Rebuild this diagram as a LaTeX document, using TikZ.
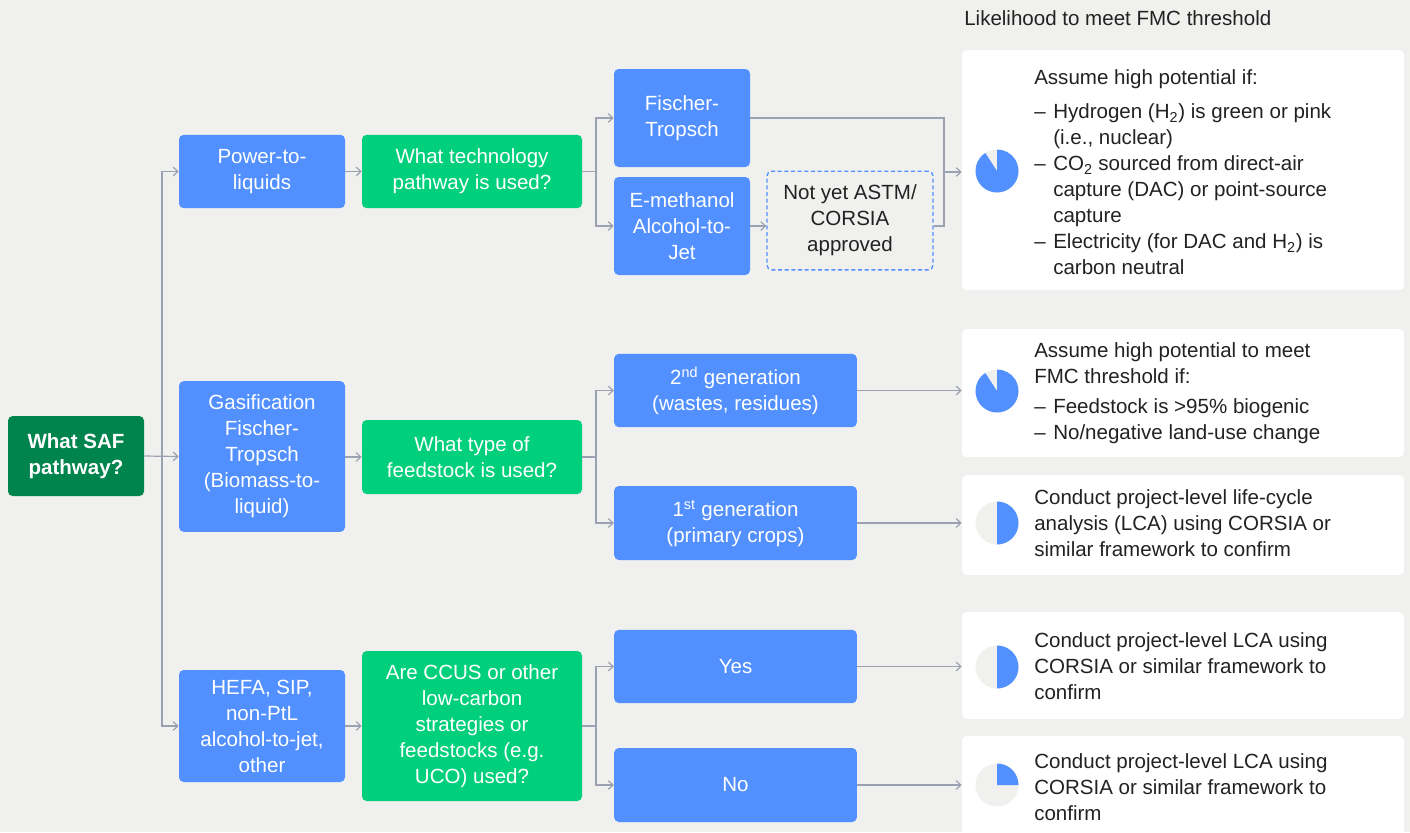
\documentclass[tikz,border=0pt]{standalone}
\usepackage{fontspec}
\setmainfont{Liberation Sans}
\usetikzlibrary{positioning}
\usetikzlibrary{arrows.meta}
\definecolor{bgcol}{RGB}{240,240,238}
\definecolor{ptlblue}{RGB}{82,144,255}
\definecolor{qgreen}{RGB}{0,208,124}
\definecolor{rootgreen}{RGB}{0,132,78}
\definecolor{linecol}{RGB}{155,161,176}
\definecolor{txtcol}{RGB}{34,34,34}
\newcommand\itm{\makebox[14.25pt][l]{–}}
\newcommand\cont{\hspace*{14.25pt}}
\newcommand\fmcpie[4]{%
  \fill[bgcol] (#1,#2) circle (21.5);
  \fill[ptlblue] (#1,#2) -- ++(#3:21.5) arc[start angle=#3, end angle=#4, radius=21.5] -- cycle;}

\begin{document}
\begin{tikzpicture}[x=0.75pt,y=-0.75pt,
  every node/.style={font=\fontsize{15.4}{19.5}\selectfont, align=center},
  bluebox/.style={fill=ptlblue, text=white, rounded corners=3.5pt, inner sep=2pt},
  greenbox/.style={fill=qgreen, text=white, rounded corners=3.5pt, inner sep=2pt, minimum width=165pt},
  rootbox/.style={fill=rootgreen, text=white, rounded corners=3.5pt, inner sep=2pt, font=\fontsize{15.4}{19.5}\selectfont\bfseries},
  pendbox/.style={draw=ptlblue, fill=bgcol, text=txtcol, line width=1pt, dash pattern=on 3pt off 2pt, rounded corners=3.5pt, inner sep=2pt},
  resbox/.style={fill=white, rounded corners=3.5pt, minimum width=331.5pt},
  restext/.style={text=txtcol, align=left, anchor=west, inner sep=0pt},
  conn/.style={draw=linecol, line width=0.9pt},
  arr/.style={conn, -{Straight Barb[length=3.5pt,width=6.5pt]}}]
  \useasboundingbox (0,0) rectangle (1410,832);
  \clip (0,0) rectangle (1410,832);
  \fill[bgcol] (0,0) rectangle (1410,832);

  \node[text=txtcol, anchor=west, inner sep=0pt] (title) at (964,18) {Likelihood to meet FMC threshold};

  \node[rootbox, minimum width=102pt, minimum height=60pt] (root) at (76,456) {What SAF\\pathway?};

  \node[bluebox, minimum width=124.5pt, minimum height=55pt] (ptl) at (262,171.5) {Power-to-\\liquids};
  \node[bluebox, minimum width=124.5pt, minimum height=113pt] (gft) at (262,456.5) {Gasification\\Fischer-\\Tropsch\\(Biomass-to-\\liquid)};
  \node[bluebox, minimum width=124.5pt, minimum height=84pt] (hefa) at (262,726) {HEFA, SIP,\\non-PtL\\alcohol-to-jet,\\other};

  \node[greenbox, minimum height=55pt] (qtech) at (472,171.5) {What technology\\pathway is used?};
  \node[greenbox, minimum height=55.5pt] (qfeed) at (472,457) {What type of\\feedstock is used?};
  \node[greenbox, minimum height=112.5pt] (qccus) at (472,726) {Are CCUS or other\\low-carbon\\strategies or\\feedstocks (e.g.\\UCO) used?};

  \node[bluebox, minimum width=102pt, minimum height=73.5pt] (ft) at (682,118) {Fischer-\\Tropsch};
  \node[bluebox, minimum width=102pt, minimum height=73.5pt] (em) at (682,226) {E-methanol\\Alcohol-to-\\Jet};
  \node[pendbox, minimum width=124.5pt, minimum height=74pt] (na) at (850,220.5) {Not yet ASTM/\\CORSIA\\approved};

  \node[bluebox, minimum width=182pt, minimum height=55pt] (gen2) at (735.5,390.5) {2\textsuperscript{nd} generation\\(wastes, residues)};
  \node[bluebox, minimum width=182pt, minimum height=55.5pt] (gen1) at (735.5,523) {1\textsuperscript{st} generation\\(primary crops)};
  \node[bluebox, minimum width=182pt, minimum height=55pt] (yes) at (735.5,666.5) {Yes};
  \node[bluebox, minimum width=182pt, minimum height=55.5pt] (no) at (735.5,785) {No};

  \node[resbox, minimum height=180pt] (rptl) at (1183,170) {};
  \node[resbox, minimum height=96pt] (rgen2) at (1183,393) {};
  \node[resbox, minimum height=75pt] (rgen1) at (1183,525) {};
  \node[resbox, minimum height=80pt] (ryes) at (1183,665.5) {};
  \node[resbox, minimum height=78pt] (rno) at (1183,788) {};

  \node[restext] (tptl) at (1034,172) {Assume high potential if:\\[6.5pt]
    \itm Hydrogen (H\textsubscript{2}) is green or pink\\
    \cont(i.e., nuclear)\\
    \itm CO\textsubscript{2} sourced from direct-air\\
    \cont capture (DAC) or point-source\\
    \cont capture\\
    \itm Electricity (for DAC and H\textsubscript{2}) is\\
    \cont carbon neutral};
  \node[restext] (tgen2) at (1034,393) {Assume high potential to meet\\FMC threshold if:\\[3pt]
    \itm Feedstock is >95\% biogenic\\
    \itm No/negative land-use change};
  \node[restext] (tgen1) at (1034,523) {Conduct project-level life-cycle\\analysis (LCA) using CORSIA or\\similar framework to confirm};
  \node[restext] (tyes) at (1034,666.5) {Conduct project-level LCA using\\CORSIA or similar framework to\\confirm};
  \node[restext] (tno) at (1034,787) {Conduct project-level LCA using\\CORSIA or similar framework to\\confirm};

  \fmcpie{997}{171}{-123}{-450}
  \fmcpie{997}{391}{-123}{-450}
  \fmcpie{997}{523}{90}{-90}
  \fmcpie{997}{667}{90}{-90}
  \fmcpie{997}{785}{0}{-90}

  \coordinate (trunk) at (162,456);
  \coordinate (jtech) at (596,171.5);
  \coordinate (jfeed) at (596,457);
  \coordinate (jccus) at (596,726);
  \coordinate (mtop) at (944,172);

  \draw[arr] (root.east) -- (gft.west);
  \draw[arr] (trunk) |- (ptl.west);
  \draw[arr] (trunk) |- (hefa.west);
  \draw[arr] (ptl.east) -- (qtech.west);
  \draw[arr] (gft.east |- qfeed.west) -- (qfeed.west);
  \draw[arr] (hefa.east) -- (qccus.west);

  \draw[conn] (qtech.east) -- (jtech);
  \draw[arr] (jtech) |- (ft.west);
  \draw[arr] (jtech) |- (em.west);
  \draw[arr] (em.east) -- (na.west |- em.east);
  \draw[conn] (ft.east) -| (mtop);
  \draw[conn] (na.east |- em.east) -| (mtop);
  \draw[arr] (mtop) -- (mtop -| rptl.west);

  \draw[conn] (qfeed.east) -- (jfeed);
  \draw[arr] (jfeed) |- (gen2.west);
  \draw[arr] (jfeed) |- (gen1.west);
  \draw[arr] (gen2.east) -- (gen2.east -| rgen2.west);
  \draw[arr] (gen1.east) -- (gen1.east -| rgen1.west);

  \draw[conn] (qccus.east) -- (jccus);
  \draw[arr] (jccus) |- (yes.west);
  \draw[arr] (jccus) |- (no.west);
  \draw[arr] (yes.east) -- (yes.east -| ryes.west);
  \draw[arr] (no.east) -- (no.east -| rno.west);
\end{tikzpicture}
\end{document}
